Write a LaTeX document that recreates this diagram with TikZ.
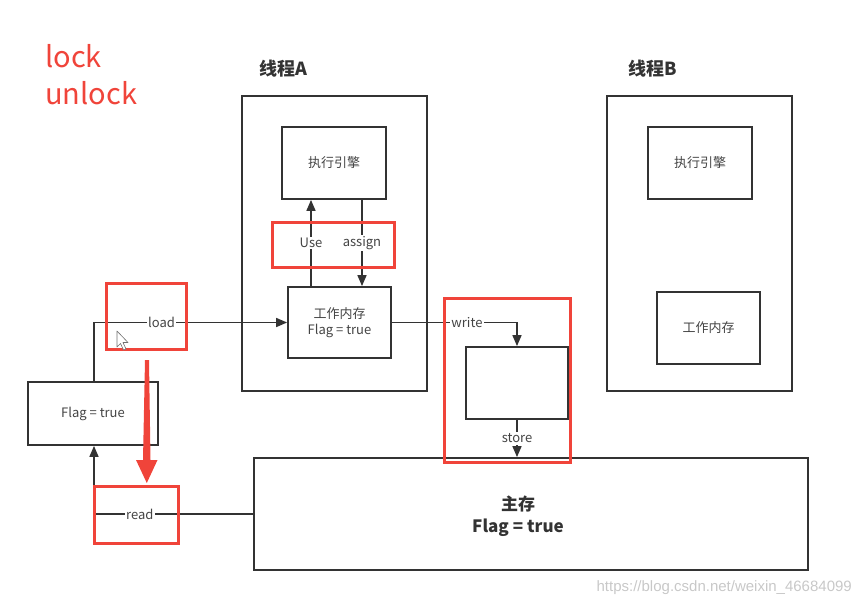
\documentclass[tikz,border=0pt]{standalone}
\usepackage{fontspec}
\setmainfont{Noto Sans CJK SC}
\newfontfamily\wmfont{Liberation Sans}
\usetikzlibrary{arrows.meta}
\definecolor{ln}{HTML}{333333}
\definecolor{txt}{HTML}{444444}
\definecolor{redmk}{HTML}{F0443A}
\definecolor{wmgray}{HTML}{C8C8C8}
\tikzset{
  box/.style={draw=ln, line width=1.8pt, inner sep=0pt, font=\fontsize{13}{16}\selectfont, text=txt, align=center},
  arr/.style={draw=ln, line width=1.6pt, -{Triangle[length=11pt,width=9pt]}},
  lbl/.style={fill=white, inner sep=1.5pt, font=\fontsize{13}{15}\selectfont, text=txt},
  redbox/.style={draw=redmk, line width=3pt},
  title/.style={font=\bfseries\fontsize{18}{20}\selectfont, text=ln, anchor=west},
  redtxt/.style={font=\fontsize{29}{32}\selectfont, text=redmk, anchor=base west, inner sep=0pt}
}
\begin{document}
\begin{tikzpicture}[x=1pt,y=-1pt]
\useasboundingbox (0,0) rectangle (855,603);
% titles
\node[redtxt] (lock) at (45,67) {lock};
\node[redtxt] (unlock) at (45,104) {unlock};
\node[title] (tA) at (256,69) {线程A};
\node[title] (tB) at (625,69) {线程B};
% boxes
\node[box, minimum width=185pt, minimum height=295pt] (thA) at (334.5,243.5) {};
\node[box, minimum width=185pt, minimum height=295pt] (thB) at (699.5,243.5) {};
\node[box, minimum width=104pt, minimum height=72pt] (exA) at (334,163) {执行引擎};
\node[box, minimum width=103pt, minimum height=71pt] (wmA) at (339.5,322.5) {工作内存\\Flag = true};
\node[box, minimum width=104pt, minimum height=72pt] (exB) at (700,163) {执行引擎};
\node[box, minimum width=103pt, minimum height=72pt] (wmB) at (708.5,328) {工作内存};
\node[box, minimum width=130pt, minimum height=63pt] (flag) at (93,413.5) {Flag = true};
\node[box, minimum width=102pt, minimum height=72pt] (mid) at (517,383) {};
\node[box, minimum width=554pt, minimum height=112pt] (main) at (531,514) {};
\node[font=\bfseries\fontsize{17}{22}\selectfont, text=ln, align=center] (mainT) at (518,516) {主存\\Flag = true};
% helper coordinates
\coordinate (useX) at (311,0);
\coordinate (asX) at (362,0);
\coordinate (ldX) at (94,0);
% connectors
\draw[arr] (wmA.north -| useX) -- (exA.south -| useX) node[lbl, midway] {Use};
\draw[arr] (exA.south -| asX) -- (wmA.north -| asX) node[lbl, midway] {assign};
\draw[arr] (flag.north -| ldX) |- (wmA.west) node[lbl, pos=0.675] {load};
\draw[arr] (wmA.east) -| (mid.north) node[lbl, pos=0.3] {write};
\draw[arr] (mid.south) -- (main.north -| mid.south) node[lbl, midway] {store};
\draw[arr] (main.west) -| (flag.south -| ldX) node[lbl, pos=0.356] {read};
% red annotation boxes
\draw[redbox] (272,222) rectangle (394,267);
\draw[redbox] (106,283) rectangle (186,349);
\draw[redbox] (94,486) rectangle (178,543);
\draw[redbox] (444,298) rectangle (570,462);
% red arrow
\fill[redmk] (145,360) -- (149,360) -- (150.5,460) -- (157.5,460) -- (146.8,483) -- (136,460) -- (143,460) -- cycle;
% cursor
\draw[ln!70, fill=white, line width=0.6pt, line join=round] (117,331) -- (117,347) -- (120.5,343.5) -- (123.5,350) -- (126,349) -- (123,342.5) -- (128,342.5) -- cycle;
% watermark
\node[font=\wmfont\fontsize{15}{17}\selectfont, text=wmgray, anchor=base east, inner sep=0pt] (wm) at (852,591) {https://blog.csdn.net/weixin\_46684099};
\end{tikzpicture}
\end{document}
